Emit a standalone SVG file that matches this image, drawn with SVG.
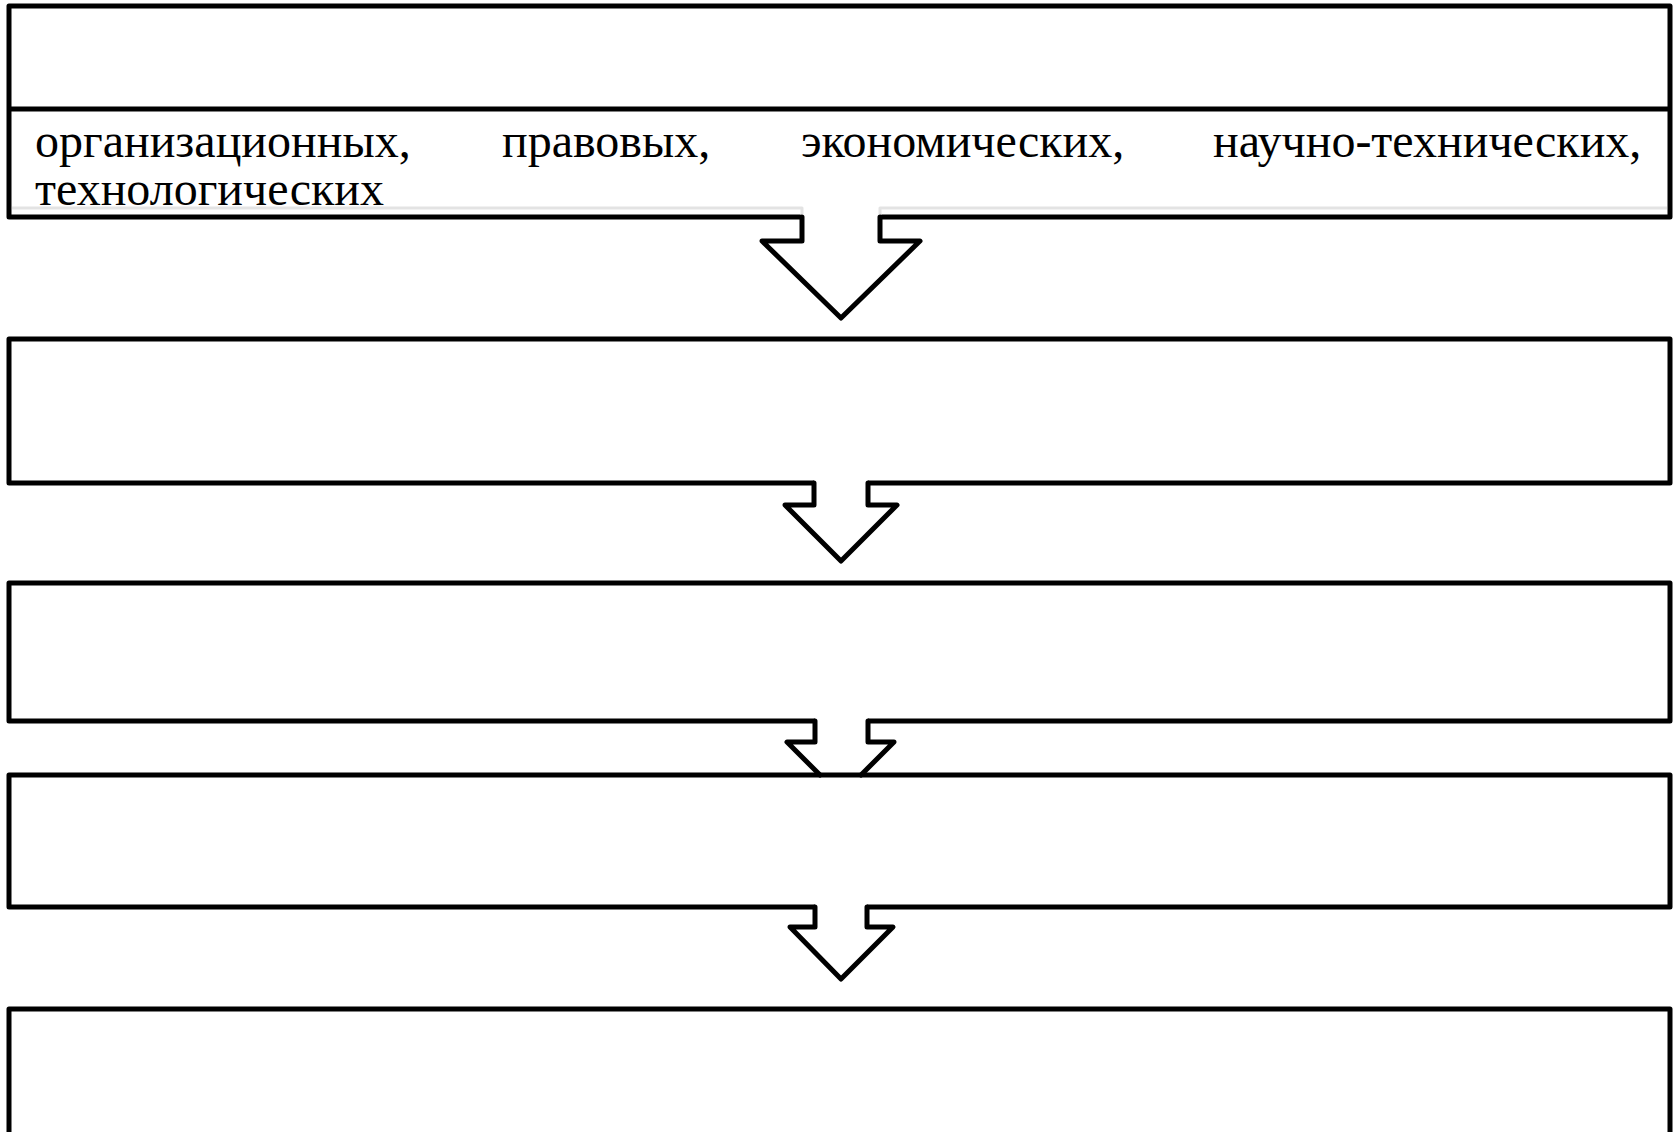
<svg xmlns="http://www.w3.org/2000/svg" width="1675" height="1132" viewBox="0 0 1675 1132">
<style>
.box{fill:#fff;stroke:#000;stroke-width:5;stroke-linejoin:round}
.div{stroke:#000;stroke-width:5}
.gray{fill:none;stroke:#e3e3e3;stroke-width:3;stroke-linejoin:round}
.afill{fill:#fff;stroke:none}
.aline{fill:none;stroke:#000;stroke-width:5;stroke-linejoin:round;stroke-linecap:round}
.t{font-family:"Liberation Serif","Times New Roman",serif;font-size:48px;fill:#000}
</style>
<rect width="1675" height="1132" fill="#fff"/>
<g id="box1">
<rect class="box" x="9" y="6" width="1661" height="211"/>
<line class="div" x1="9" y1="109" x2="1670" y2="109"/>
<path class="gray" d="M12 208 H802 V215 M880 215 V208 H1667"/>
<text class="t" y="157"><tspan x="35">организационных,</tspan><tspan x="502">правовых,</tspan><tspan x="801">экономических,</tspan><tspan x="1213">научно-технических,</tspan></text>
<text class="t" x="35" y="205">технологических</text>
</g>
<g id="box2"><rect class="box" x="9" y="339" width="1661" height="144"/></g>
<g id="box3"><rect class="box" x="9" y="583" width="1661" height="138"/></g>
<g id="box4"><rect class="box" x="9" y="775" width="1661" height="132"/></g>
<g id="box5"><rect class="box" x="9" y="1009" width="1661" height="140"/></g>
<g id="connectors">
<g id="arrow1">
<polygon class="afill" points="802,214 880,214 880,241 920,241 841,318 762,241 802,241"/>
<path class="aline" d="M802 217 V241 H762 L841 318 L920 241 H880 V217"/>
</g>
<g id="arrow2">
<polygon class="afill" points="814,480 868,480 868,505 897,505 841,561 785,505 814,505"/>
<path class="aline" d="M814 483 V505 H785 L841 561 L897 505 H868 V483"/>
</g>
<g id="arrow3">
<polygon class="afill" points="815,718 868,718 868,742 894,742 861,772 820,772 787,742 815,742"/>
<path class="aline" d="M820 775 L787 742 H815 V721 M868 721 V742 H894 L861 775"/>
</g>
<g id="arrow4">
<polygon class="afill" points="815,904 867,904 867,927 893,927 841,979 790,927 815,927"/>
<path class="aline" d="M815 907 V927 H790 L841 979 L893 927 H867 V907"/>
</g>
</g>
</svg>
